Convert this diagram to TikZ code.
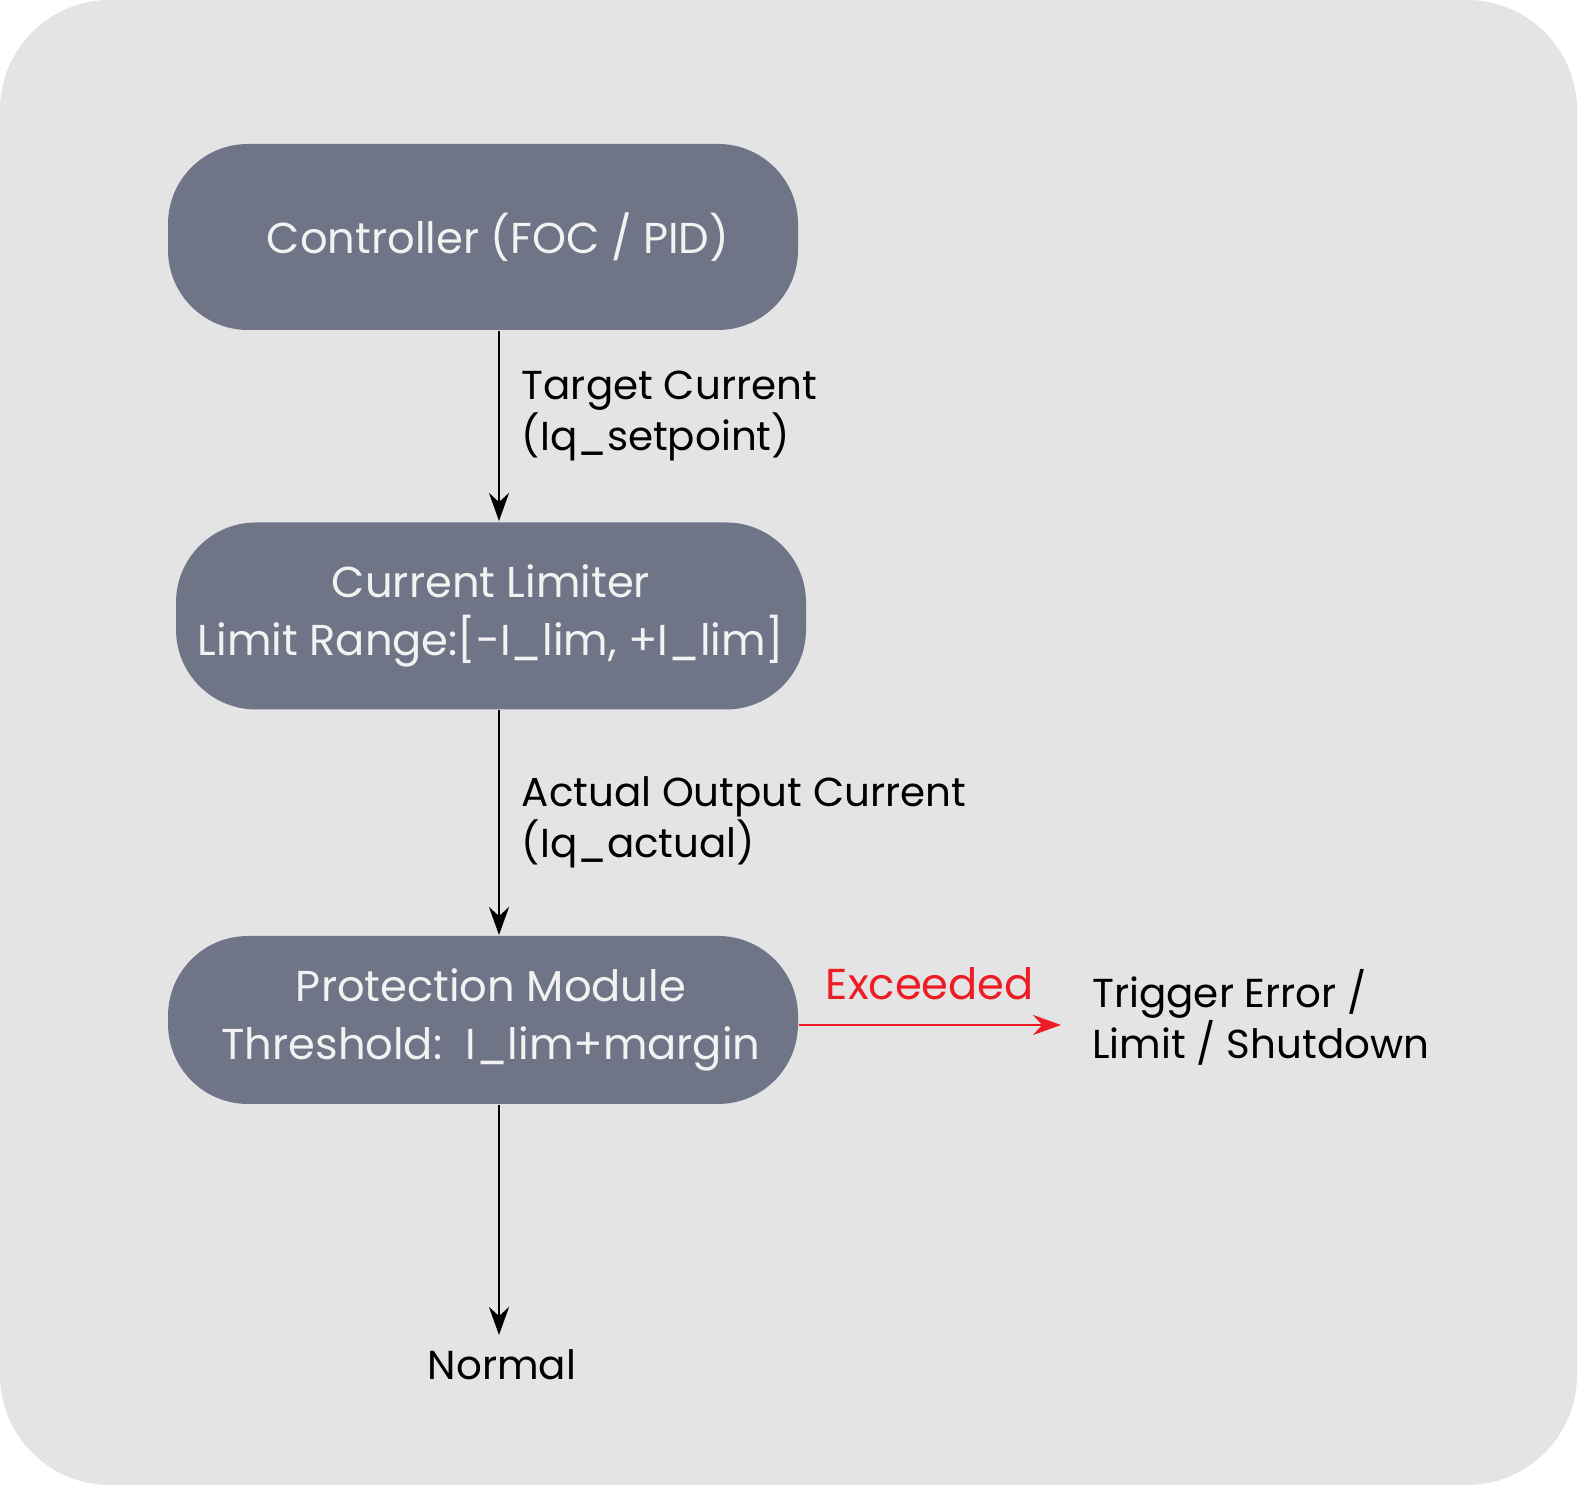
\documentclass[tikz,border=0pt]{standalone}
\usepackage{fontspec}
\setmainfont{Poppins}
\usepackage{xcolor}
\usetikzlibrary{arrows.meta,positioning,shapes,calc}
\definecolor{bgray}{HTML}{E4E4E4}
\definecolor{boxgray}{HTML}{6F7486}
\definecolor{boxtext}{HTML}{F2F2F2}
\definecolor{warnred}{HTML}{EE1C25}

\begin{document}
\begin{tikzpicture}[
		block/.style={rectangle, rounded corners=0.8cm, fill=boxgray, text=boxtext, minimum width=6.3cm, align=center, font=\fontsize{12.3}{16.3}\selectfont},
		lbl/.style={align=left, anchor=west, font=\fontsize{11.5}{14.5}\selectfont},
		flow/.style={-{Stealth[length=0.28cm, width=0.2cm]}, line width=0.6pt}
	]
	\useasboundingbox (0,0) rectangle (15.77,14.85);
	\fill[bgray, rounded corners=1.1cm] (0,0) rectangle (15.77,14.85);
	\node[block, minimum height=1.86cm] (ctrl) at (4.83,12.48) {\raisebox{0.07cm}{\hspace{0.3cm}Controller (FOC / PID)}};
	\node[block, minimum height=1.87cm] (lim) at (4.91,8.69) {Current Limiter\\Limit Range:[-I\_lim, +I\_lim]};
	\node[block, minimum height=1.68cm] (prot) at (4.83,4.65) {\hspace{0.16cm}Protection Module\\\hspace{0.16cm}Threshold:\ \ I\_lim+margin};
	\node[font=\fontsize{11.5}{14.5}\selectfont] (normal) at (5.02,1.2) {Normal};
	\node[lbl] (trig) at (10.80,4.68) {Trigger Error /\\Limit / Shutdown};
	\coordinate (tgt) at (4.99,9.64);
	\coordinate (act) at (4.99,5.50);
	\coordinate (nrm) at (4.99,1.50);
	\coordinate (err) at (10.61,4.60);
	\draw[flow] (ctrl.south -| tgt) -- (tgt) node[lbl, midway, xshift=0.1cm, yshift=0.1cm] {Target Current\\(Iq\_setpoint)};
	\draw[flow] (lim.south -| act) -- (act) node[lbl, midway, xshift=0.1cm] {Actual Output Current\\(Iq\_actual)};
	\draw[flow] (prot.south -| nrm) -- (nrm);
	\draw[flow, warnred] (prot.east |- err) -- (err) node[midway, above=0.12cm, font=\fontsize{12.3}{16}\selectfont] {Exceeded};
\end{tikzpicture}
\end{document}
